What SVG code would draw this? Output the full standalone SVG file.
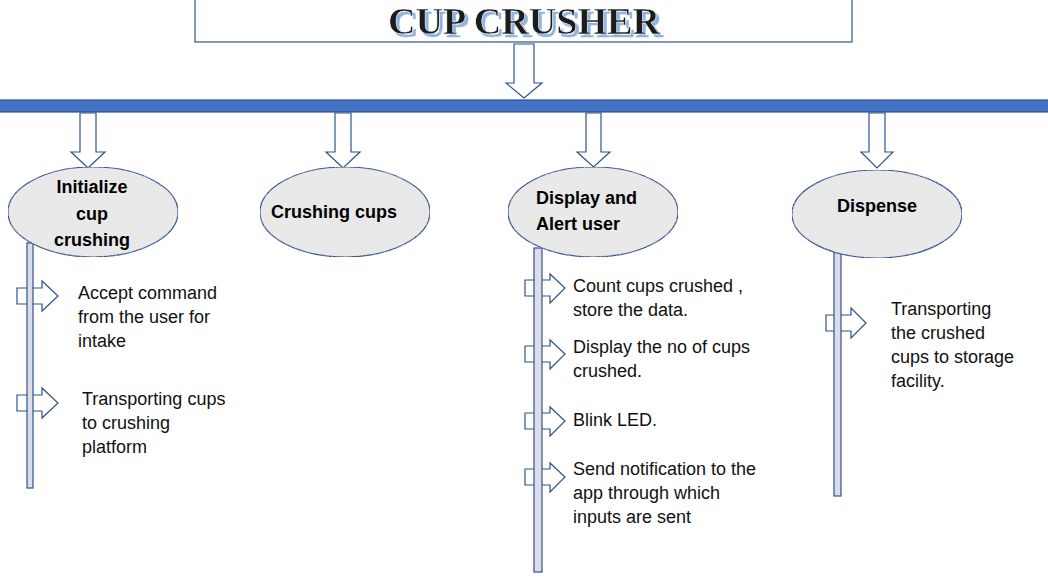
<svg xmlns="http://www.w3.org/2000/svg" width="1048" height="582" viewBox="0 0 1048 582">
<defs>
<filter id="shadow" x="-5%" y="-20%" width="110%" height="140%">
<feOffset in="SourceAlpha" dx="3" dy="3" result="off"/>
<feFlood flood-color="#8fb4e3" result="col"/>
<feComposite in="col" in2="off" operator="in" result="sh"/>
<feMerge><feMergeNode in="sh"/><feMergeNode in="SourceGraphic"/></feMerge>
</filter>
<filter id="grain" x="0" y="0" width="100%" height="100%">
<feTurbulence type="fractalNoise" baseFrequency="0.9" numOctaves="2" seed="4" result="noise"/>
<feColorMatrix in="noise" type="matrix" values="0 0 0 0 0.78  0 0 0 0 0.78  0 0 0 0 0.78  1.2 0 0 0 -0.55" result="speck"/>
<feComposite in="speck" in2="SourceGraphic" operator="in" result="sp"/>
<feMerge><feMergeNode in="SourceGraphic"/><feMergeNode in="sp"/></feMerge>
</filter>
</defs>
<style>
.arrow{fill:#ffffff;stroke:#2f528f;stroke-width:1.2}
.ell{fill:#e9e9e9;stroke:#2f528f;stroke-width:1.2}
.bar{fill:#dcdde6;stroke:#2f528f;stroke-width:1.2}
.lbl{font-family:"Liberation Sans",Arial,sans-serif;font-size:18px;font-weight:bold;fill:#000}
.txt{font-family:"Liberation Sans",Arial,sans-serif;font-size:18px;fill:#111}
</style>
<rect width="1048" height="582" fill="#ffffff"/>
<g id="title">
<rect x="195" y="-2" width="657" height="44" fill="#ffffff" stroke="#2f528f" stroke-width="1.2"/>
<text x="388" y="34" font-family="Liberation Serif,serif" font-size="37" font-weight="bold" fill="#1a1a1a" stroke="#ffffff" stroke-width="0.5" textLength="272" lengthAdjust="spacingAndGlyphs" filter="url(#shadow)">CUP CRUSHER</text>
</g>
<g id="connectors">
<path class="arrow" d="M514,44 L534,44 L534,83 L542,83 L524,98 L506,83 L514,83 Z"/>
<path class="arrow" d="M80,113 L96,113 L96,152 L105,152 L88,168 L71,152 L80,152 Z"/>
<path class="arrow" d="M335,113 L351,113 L351,152 L360,152 L343,168 L326,152 L335,152 Z"/>
<path class="arrow" d="M586,113 L601,113 L601,152 L610,152 L593.5,167 L577,152 L586,152 Z"/>
<path class="arrow" d="M869,113 L885,113 L885,152 L893,152 L877,168 L861,152 L869,152 Z"/>
<path class="arrow" d="M17,288 L42,288 L42,281 L58,296 L42,311 L42,304 L17,304 Z"/>
<path class="arrow" d="M17,395 L42,395 L42,388 L58,403 L42,418 L42,411 L17,411 Z"/>
<path class="arrow" d="M525,280 L550,280 L550,274 L565,288 L550,303 L550,296 L525,296 Z"/>
<path class="arrow" d="M525,346 L550,346 L550,340 L565,354 L550,369 L550,362 L525,362 Z"/>
<path class="arrow" d="M525,413 L550,413 L550,407 L565,421 L550,436 L550,429 L525,429 Z"/>
<path class="arrow" d="M525,469 L550,469 L550,463 L565,477 L550,492 L550,485 L525,485 Z"/>
<path class="arrow" d="M826,315 L851,315 L851,308 L866,323 L851,338 L851,331 L826,331 Z"/>
</g>
<rect id="bus" x="-2" y="100" width="1052" height="12" fill="#4472c4" stroke="#2f528f" stroke-width="1.2"/>
<g id="node-initialize">
<rect class="bar" x="27" y="243" width="6" height="245"/>
<ellipse class="ell" cx="93" cy="212" rx="85" ry="45" filter="url(#grain)"/>
<text class="lbl" x="92" y="193" text-anchor="middle">Initialize</text>
<text class="lbl" x="92" y="220" text-anchor="middle">cup</text>
<text class="lbl" x="92" y="246" text-anchor="middle">crushing</text>
<text class="txt" x="78" y="299">Accept command</text>
<text class="txt" x="78" y="323">from the user for</text>
<text class="txt" x="78" y="347">intake</text>
<text class="txt" x="82" y="405">Transporting cups</text>
<text class="txt" x="82" y="429">to crushing</text>
<text class="txt" x="82" y="453">platform</text>
</g>
<g id="node-crushing">
<ellipse class="ell" cx="345" cy="212" rx="85" ry="45" filter="url(#grain)"/>
<text class="lbl" x="271" y="218">Crushing cups</text>
</g>
<g id="node-display">
<rect class="bar" x="534" y="248" width="8" height="324"/>
<ellipse class="ell" cx="593" cy="212" rx="85" ry="45" filter="url(#grain)"/>
<text class="lbl" x="536" y="204">Display and</text>
<text class="lbl" x="536" y="230">Alert user</text>
<text class="txt" x="573" y="292">Count cups crushed ,</text>
<text class="txt" x="573" y="316">store the data.</text>
<text class="txt" x="573" y="353">Display the no of cups</text>
<text class="txt" x="573" y="377">crushed.</text>
<text class="txt" x="573" y="426">Blink LED.</text>
<text class="txt" x="573" y="475">Send notification to the</text>
<text class="txt" x="573" y="499">app through which</text>
<text class="txt" x="573" y="523">inputs are sent</text>
</g>
<g id="node-dispense">
<rect class="bar" x="834" y="251" width="7" height="245"/>
<ellipse class="ell" cx="877" cy="214" rx="85" ry="44" filter="url(#grain)"/>
<text class="lbl" x="877" y="212" text-anchor="middle">Dispense</text>
<text class="txt" x="891" y="315">Transporting</text>
<text class="txt" x="891" y="339">the crushed</text>
<text class="txt" x="891" y="363">cups to storage</text>
<text class="txt" x="891" y="387">facility.</text>
</g>
</svg>
